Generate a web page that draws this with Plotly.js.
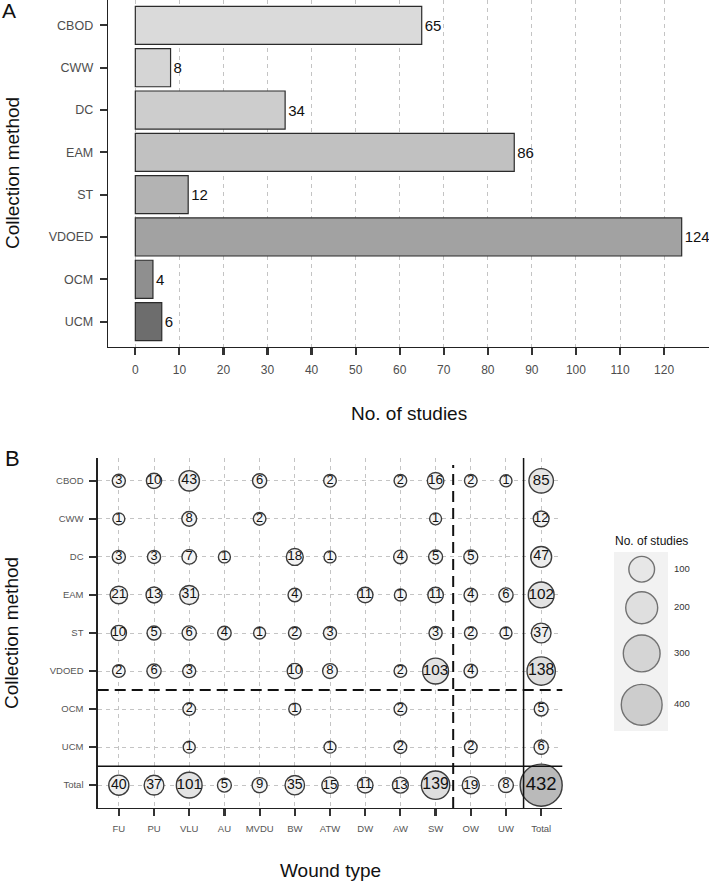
<!DOCTYPE html>
<html>
<head>
<meta charset="utf-8">
<script src="https://cdn.plot.ly/plotly-3.0.1.min.js"></script>
<style>
  html, body { margin: 0; padding: 0; background: #fff; }
  #chart { width: 709px; height: 881px; }
</style>
</head>
<body>
<div id="chart"></div>
<script>
// Panel A: number of studies per collection method
const methods = ['CBOD', 'CWW', 'DC', 'EAM', 'ST', 'VDOED', 'OCM', 'UCM'];
const methodStudies = [65, 8, 34, 86, 12, 124, 4, 6];
const barGreys = ['#dadada', '#d5d5d5', '#cdcdcd', '#c1c1c1', '#b3b3b3', '#a2a2a2', '#8f8f8f', '#6d6d6d'];
const studyTicks = [0, 10, 20, 30, 40, 50, 60, 70, 80, 90, 100, 110, 120];

// Panel B: collection method x wound type
const woundTypes = ['FU', 'PU', 'VLU', 'AU', 'MVDU', 'BW', 'ATW', 'DW', 'AW', 'SW', 'OW', 'UW', 'Total'];
const rowMethods = ['CBOD', 'CWW', 'DC', 'EAM', 'ST', 'VDOED', 'OCM', 'UCM', 'Total'];
const cbodRow  = [3, 10, 43, null, 6, null, 2, null, 2, 16, 2, 1, 85];
const cwwRow   = [1, null, 8, null, 2, null, null, null, null, 1, null, null, 12];
const dcRow    = [3, 3, 7, 1, null, 18, 1, null, 4, 5, 5, null, 47];
const eamRow   = [21, 13, 31, null, null, 4, null, 11, 1, 11, 4, 6, 102];
const stRow    = [10, 5, 6, 4, 1, 2, 3, null, null, 3, 2, 1, 37];
const vdoedRow = [2, 6, 3, null, null, 10, 8, null, 2, 103, 4, null, 138];
const ocmRow   = [null, null, 2, null, null, 1, null, null, 2, null, null, null, 5];
const ucmRow   = [null, null, 1, null, null, null, 1, null, 2, null, 2, null, 6];
const totalRow = [40, 37, 101, 5, 9, 35, 15, 11, 13, 139, 19, 8, 432];
const legendValues = [100, 200, 300, 400];

const W = 709, H = 881;
const px = x => x / W;
const py = y => 1 - y / H;
const FONT = 'Liberation Sans, Arial, sans-serif';

// bubble scale: diameter grows with sqrt of count
const diam = v => 10.5 + 1.517 * Math.sqrt(v);
const labelSize = v => 12.3 + 0.3 * Math.sqrt(v);
const bubbleScale = [[0, '#f6f6f6'], [0.25, '#e2e2e2'], [1, '#bababa']];

const rows = [cbodRow, cwwRow, dcRow, eamRow, stRow, vdoedRow, ocmRow, ucmRow, totalRow];
const bx = [], by = [], bv = [];
rows.forEach((r, i) => {
  r.forEach((v, j) => {
    if (v === null) return;
    bx.push(woundTypes[j]);
    by.push(rowMethods[i]);
    bv.push(v);
  });
});

// legend key positions (pixels from top of legend box)
const keyH = legendValues.map(v => 1.28 * (diam(v) + 1.3));
const legendY = [];
let acc = 0;
keyH.forEach(h => { legendY.push(acc + h / 2); acc += h; });

const bars = {
  type: 'bar', orientation: 'h',
  x: methodStudies, y: methods, xaxis: 'x', yaxis: 'y',
  width: 0.9,
  marker: { color: barGreys, line: { color: '#2b2b2b', width: 1.2 } },
  text: methodStudies.map(String), textposition: 'outside',
  textfont: { family: FONT, size: 15, color: '#111' },
  cliponaxis: false, constraintext: 'none', hoverinfo: 'skip'
};

const bubbles = {
  type: 'scatter', mode: 'markers+text',
  x: bx, y: by, xaxis: 'x2', yaxis: 'y2',
  text: bv.map(String), textposition: 'middle center',
  textfont: { family: FONT, size: bv.map(labelSize), color: '#111' },
  marker: {
    size: bv.map(diam), color: bv, colorscale: bubbleScale, cmin: 0, cmax: 432,
    line: { color: '#3c3c3c', width: 1.4 }, opacity: 1
  },
  cliponaxis: false, hoverinfo: 'skip'
};

const legendCircles = {
  type: 'scatter', mode: 'markers',
  x: legendValues.map(() => 27.7), y: legendY, xaxis: 'x3', yaxis: 'y3',
  marker: {
    size: legendValues.map(diam), color: legendValues, colorscale: bubbleScale, cmin: 0, cmax: 432,
    line: { color: '#3c3c3c', width: 1.4 }
  },
  cliponaxis: false, hoverinfo: 'skip'
};

const legendLabels = {
  type: 'scatter', mode: 'text',
  x: legendValues.map(() => 60), y: legendY, xaxis: 'x3', yaxis: 'y3',
  text: legendValues.map(String), textposition: 'middle right',
  textfont: { family: FONT, size: 9.5, color: '#333' },
  cliponaxis: false, hoverinfo: 'skip'
};

const axisCommon = {
  showline: true, linecolor: '#222', linewidth: 1.3,
  ticks: 'outside', ticklen: 7, tickwidth: 2.2, tickcolor: '#333',
  zeroline: false, fixedrange: true
};
const dashedGrid = { showgrid: true, gridcolor: '#c4c4c4', gridwidth: 1, griddash: '4px,4px' };

const layout = {
  width: W, height: H,
  margin: { l: 0, r: 0, t: 0, b: 0 },
  paper_bgcolor: '#fff', plot_bgcolor: 'rgba(0,0,0,0)',
  showlegend: false,
  font: { family: FONT },
  xaxis: Object.assign({}, axisCommon, dashedGrid, {
    domain: [px(108), 1], anchor: 'y', range: [-6.2, 130.2],
    tickmode: 'array', tickvals: studyTicks,
    tickfont: { size: 12, color: '#4d4d4d' }, ticklabelstandoff: 4
  }),
  yaxis: Object.assign({}, axisCommon, {
    domain: [py(347), 1], anchor: 'x', type: 'category',
    categoryorder: 'array', categoryarray: methods, range: [7.6, -0.6],
    showgrid: false, tickfont: { size: 12.5, color: '#4d4d4d' }, ticklabelstandoff: 4
  }),
  xaxis2: Object.assign({}, axisCommon, dashedGrid, {
    domain: [px(97.7), px(562.3)], anchor: 'y2', type: 'category',
    categoryorder: 'array', categoryarray: woundTypes, range: [-0.6, 12.6],
    tickfont: { size: 9.5, color: '#555' }, ticklabelstandoff: 4
  }),
  yaxis2: Object.assign({}, axisCommon, dashedGrid, {
    domain: [py(808), py(458)], anchor: 'x2', type: 'category',
    categoryorder: 'array', categoryarray: rowMethods, range: [8.6, -0.6],
    tickfont: { size: 9.5, color: '#555' }, ticklabelstandoff: 4
  }),
  xaxis3: { domain: [px(614), px(705)], anchor: 'y3', range: [0, 91], visible: false, fixedrange: true },
  yaxis3: { domain: [py(731), py(552)], anchor: 'x3', range: [179, 0], visible: false, fixedrange: true },
  shapes: [
    // legend background
    { type: 'rect', xref: 'paper', yref: 'paper', x0: px(614), x1: px(668), y0: py(731), y1: py(552),
      fillcolor: '#f2f2f2', line: { width: 0 }, layer: 'below' },
    // total separators
    { type: 'line', xref: 'x2', yref: 'y2 domain', x0: 11.5, x1: 11.5, y0: 0, y1: 1,
      line: { color: '#111', width: 1.5 }, layer: 'above' },
    { type: 'line', xref: 'x2 domain', yref: 'y2', x0: 0, x1: 1, y0: 7.5, y1: 7.5,
      line: { color: '#111', width: 1.5 }, layer: 'above' },
    // other / unknown separators
    { type: 'line', xref: 'x2', yref: 'y2 domain', x0: 9.5, x1: 9.5, y0: 0, y1: 0.98,
      line: { color: '#111', width: 2, dash: '11px,6px' }, layer: 'above' },
    { type: 'line', xref: 'x2 domain', yref: 'y2', x0: 0, x1: 1, y0: 5.5, y1: 5.5,
      line: { color: '#111', width: 2, dash: '11px,6px' }, layer: 'above' }
  ],
  annotations: [
    { text: 'A', x: px(9), y: py(11), font: { size: 21, color: '#111' } },
    { text: 'B', x: px(12), y: py(459), font: { size: 22, color: '#111' } },
    { text: 'Collection method', x: px(12), y: py(173), textangle: -90, font: { size: 19, color: '#111' } },
    { text: 'No. of studies', x: px(409), y: py(413), font: { size: 19, color: '#111' } },
    { text: 'Collection method', x: px(11), y: py(633), textangle: -90, font: { size: 19, color: '#111' } },
    { text: 'Wound type', x: px(330), y: py(870), font: { size: 19, color: '#111' } },
    { text: 'No. of studies', x: px(651.5), y: py(541), font: { size: 12, color: '#111' } }
  ].map(a => Object.assign({ xref: 'paper', yref: 'paper', xanchor: 'center', yanchor: 'middle', showarrow: false }, a))
};

Plotly.newPlot('chart', [bars, bubbles, legendCircles, legendLabels], layout, { staticPlot: true, displayModeBar: false });
</script>
</body>
</html>
